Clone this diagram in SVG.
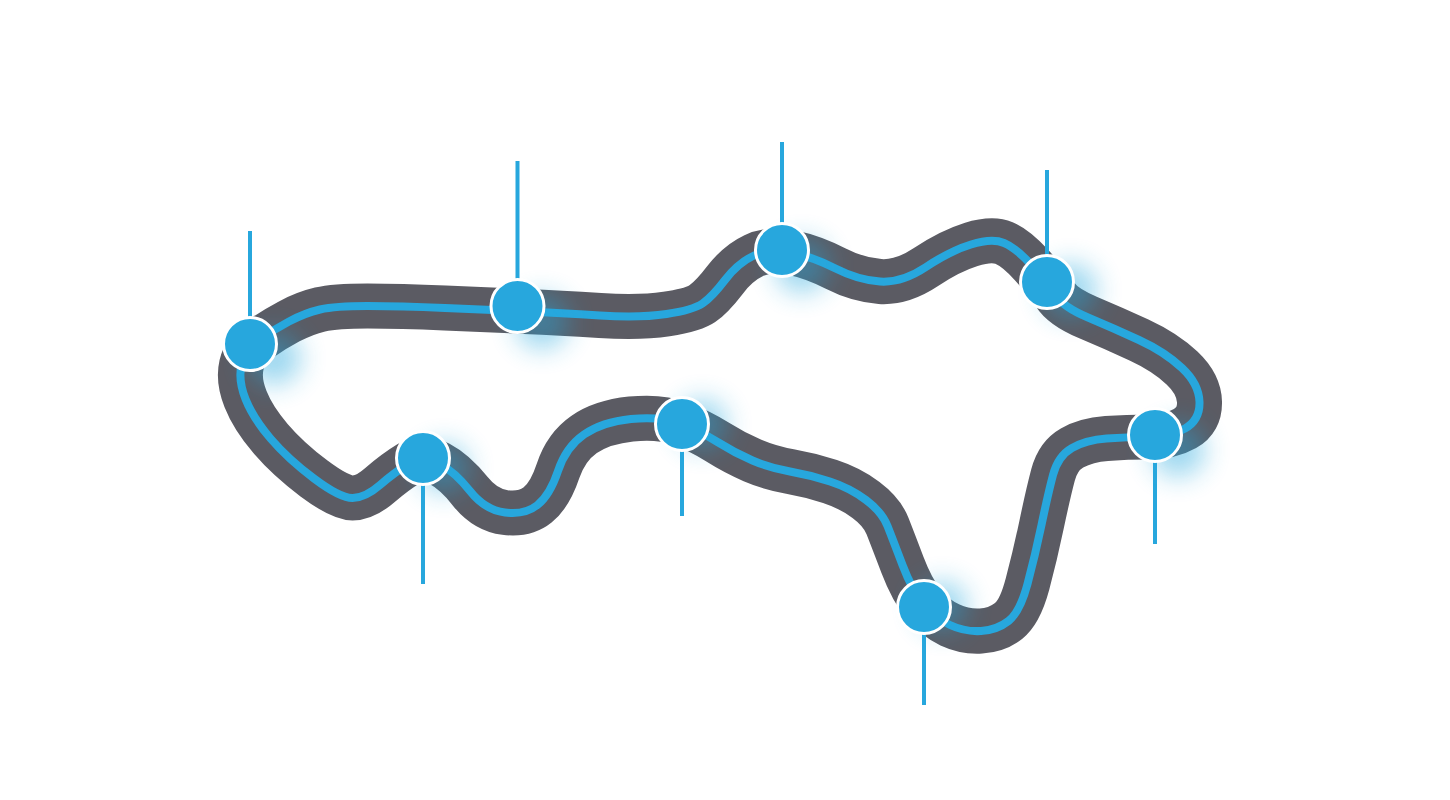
<svg xmlns="http://www.w3.org/2000/svg" width="1450" height="800" viewBox="0 0 1450 800">
<defs>
<style>
.t{fill:none;stroke-linejoin:round}
.o{stroke:#5b5b63;stroke-width:45}
.i{stroke:#27a7dd;stroke-width:8}
.l{stroke:#27a7dd;stroke-width:4;fill:none}
.n{fill:#27a7dd;stroke:#fff;stroke-width:3}
.g{fill:#27a7dd;opacity:.45;filter:url(#b)}
</style>
<filter id="b" x="-80%" y="-80%" width="260%" height="260%"><feGaussianBlur stdDeviation="13"/></filter>
<path id="tr" d="M259 340Q273 330 289 321.500Q305 313 320 309.500Q335 306 367.500 306Q400 306 445 308Q490 310 525 311.500Q560 313 600 315.500Q640 318 666.500 314Q693 310 702.500 303.500Q712 297 725 280Q738 263 754 255.500Q770 248 791.500 252.500Q813 257 835.500 268.500Q858 280 880 281.500Q902 283 926 267Q950 251 971 244.500Q992 238 1004 243Q1016 248 1031.500 265Q1047 282 1055 294.500Q1063 307 1088 317.500Q1113 328 1139 340Q1165 352 1182 368Q1199 384 1199.500 402Q1200 420 1185 428.500Q1170 437 1148.500 437Q1127 437 1106.500 438.500Q1086 440 1072 448Q1058 456 1053 475Q1048 494 1041.500 525Q1035 556 1027.500 584Q1020 612 1008.500 621Q997 630 981 631Q965 632 950 625Q935 618 923.500 604Q912 590 902.500 565Q893 540 887.500 526Q882 512 866 500Q850 488 830 481.500Q810 475 790 471.500Q770 468 752.500 460.500Q735 453 717.500 442Q700 431 680 423.500Q660 416 631 419Q602 422 584 434.500Q566 447 558 471Q550 495 537.500 505Q525 515 505 512.500Q485 510 470 491Q455 472 439 463.500Q423 455 409 463.500Q395 472 380 485Q365 498 352.500 498Q340 498 314 478.500Q288 459 270.500 438.500Q253 418 245.500 399Q238 380 241.500 365Q245 350 259 340Z"/>
</defs>
<g id="connectors">
<use href="#tr" class="t o"/>
<use href="#tr" class="t i"/>
<path class="l" d="M250 231V344M517.500 161V306M782 142V250M1047 170V282M1155 435V544M924 607V705M682 424V516M423 458V584"/>
</g>
<g id="node1"><circle class="g" cx="274" cy="358" r="27"/><circle class="n" cx="250" cy="344" r="26.500"/></g>
<g id="node2"><circle class="g" cx="542" cy="322" r="27"/><circle class="n" cx="517.500" cy="306" r="26.500"/></g>
<g id="node3"><circle class="g" cx="802" cy="266" r="27"/><circle class="n" cx="782" cy="250" r="26.500"/></g>
<g id="node4"><circle class="g" cx="1070" cy="290" r="27"/><circle class="n" cx="1047" cy="282" r="26.500"/></g>
<g id="node5"><circle class="g" cx="1178" cy="450" r="27"/><circle class="n" cx="1155" cy="435" r="26.500"/></g>
<g id="node6"><circle class="g" cx="942" cy="606" r="25"/><circle class="n" cx="924" cy="607" r="26.500"/></g>
<g id="node7"><circle class="g" cx="702" cy="424" r="25"/><circle class="n" cx="682" cy="424" r="26.500"/></g>
<g id="node8"><circle class="g" cx="444" cy="468" r="25"/><circle class="n" cx="423" cy="458" r="26.500"/></g>
</svg>
